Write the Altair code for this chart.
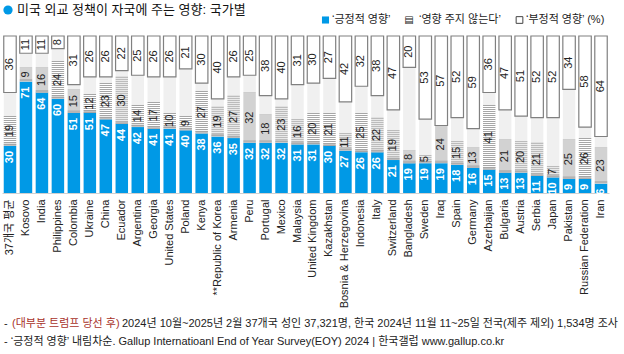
import altair as alt
import pandas as pd

countries = ["37개국 평균", "Kosovo", "India", "Philippines", "Colombia", "Ukraine", "China",
             "Ecuador", "Argentina", "Georgia", "United States", "Poland", "Kenya",
             "**Republic of Korea", "Armenia", "Peru", "Portugal", "Mexico", "Malaysia",
             "United Kingdom", "Kazakhstan", "Bosnia & Herzegovina", "Indonesia", "Italy",
             "Switzerland", "Bangladesh", "Sweden", "Iraq", "Spain", "Germany", "Azerbaijan",
             "Bulgaria", "Austria", "Serbia", "Japan", "Pakistan", "Russian Federation", "Iran"]
positive = [30, 71, 64, 60, 51, 51, 47, 44, 42, 41, 41, 40, 38, 36, 35, 32, 32, 32, 31, 31, 30,
            27, 26, 26, 21, 19, 19, 19, 18, 16, 15, 13, 13, 11, 10, 9, 9, 6]
neutral = [19, 9, 16, 24, 15, 12, 23, 30, 14, 17, 10, 9, 27, 19, 27, 32, 18, 23, 16, 20, 21,
           11, 25, 22, 19, 8, 5, 24, 15, 13, 41, 21, 20, 21, 7, 25, 26, 23]
negative = [36, 11, 11, 8, 31, 26, 26, 22, 25, 26, 26, 21, 30, 40, 26, 25, 38, 40, 31, 30, 27,
            42, 32, 38, 47, 20, 53, 57, 52, 59, 36, 47, 51, 52, 52, 34, 58, 64]

df = pd.DataFrame({"country": countries, "pos": positive, "neu": neutral, "neg": negative})
df["zero"] = 0
df["full"] = 100
df["neu_end"] = df["pos"] + df["neu"]
df["neu_mid"] = df["pos"] + df["neu"] / 2
df["neg_start"] = 100 - df["neg"]
df["neg_mid"] = 100 - df["neg"] / 2

FONT = "Liberation Sans, Noto Sans CJK KR, sans-serif"
BLUE = "#0099e6"
BAR_W = 12.4

x = alt.X("country:N", sort=countries,
          scale=alt.Scale(paddingInner=0.22, paddingOuter=0.11),
          axis=alt.Axis(title=None, labelAngle=270, labelFontSize=11, labelColor="#222222",
                        labelFont=FONT, ticks=False, domainColor="#d0d0d0", labelPadding=6,
                        labelLimit=200))
ys = alt.Scale(domain=[0, 100], nice=False, zero=True)

base = alt.Chart(df)

bg = base.mark_bar(color="#f0f0f0").encode(x=x, y=alt.Y("zero:Q", scale=ys, axis=None), y2="full")
blue = base.mark_bar(color=BLUE).encode(x=x, y=alt.Y("zero:Q", scale=ys, axis=None), y2="pos")
neu_bg = base.mark_bar(color="#ffffff").encode(x=x, y=alt.Y("pos:Q", scale=ys, axis=None), y2="neu_end")
stripes = base.mark_rule(color="#a6a6a6", strokeWidth=BAR_W, strokeDash=[1, 1]).encode(
    x=x, y=alt.Y("neu_end:Q", scale=ys, axis=None), y2="pos")
band = base.mark_tick(color="#a6a6a6", thickness=2.5, size=BAR_W, orient="horizontal",
                      yOffset=-1.25).encode(x=x, y=alt.Y("pos:Q", scale=ys, axis=None))
negbox = base.mark_bar(fill="#ffffff", stroke="#808080", strokeWidth=1.2).encode(
    x=x, y=alt.Y("neg_start:Q", scale=ys, axis=None), y2="full")

lab_pos = base.mark_text(angle=270, align="right", baseline="middle", dx=-5, font=FONT,
                         fontSize=11, fontWeight="bold", color="#ffffff").encode(
    x=x, y=alt.Y("pos:Q", scale=ys, axis=None), text="pos:Q")
lab_neu = base.mark_text(angle=270, align="center", baseline="middle", font=FONT,
                         fontSize=11, color="#222222").encode(
    x=x, y=alt.Y("neu_mid:Q", scale=ys, axis=None), text="neu:Q")
lab_neg = base.mark_text(angle=270, align="center", baseline="middle", font=FONT,
                         fontSize=11, color="#222222").encode(
    x=x, y=alt.Y("neg_mid:Q", scale=ys, axis=None), text="neg:Q")

one = pd.DataFrame({"a": [0]})


def txt(s, px, py, size=11, color="#222222", align="left", weight="normal", font=FONT):
    return alt.Chart(one).mark_text(text=s, align=align, baseline="middle", fontSize=size,
                                    color=color, fontWeight=weight, font=font).encode(
        x=alt.value(px), y=alt.value(py))


# title
dot = alt.Chart(one).mark_circle(size=85, color=BLUE, opacity=1).encode(x=alt.value(6), y=alt.value(-26))
title = txt("미국 외교 정책이 자국에 주는 영향: 국가별", 15, -26, size=13, color="#111111")

# legend
lg_blue = alt.Chart(one).mark_square(size=50, color=BLUE, opacity=1).encode(x=alt.value(323.5), y=alt.value(-16))
lg_t1 = txt("‘긍정적 영향’", 330, -16)
lg_hatch = txt("▤", 407, -16, size=10, font="DejaVu Sans", align="center")
lg_t2 = txt("‘영향 주지 않는다’", 417, -16)
lg_white = alt.Chart(one).mark_square(size=45, filled=False, color="#444444", strokeWidth=1,
                                      opacity=1).encode(x=alt.value(517.5), y=alt.value(-16))
lg_t3 = txt("‘부정적 영향’ (%)", 524, -16)

# footnotes
f1a = txt("-", 2, 288)
f1b = txt("(대부분 트럼프 당선 후)", 10, 288, color="#a8322a")
f1c = txt("2024년 10월~2025년 2월 37개국 성인 37,321명, 한국 2024년 11월 11~25일 전국(제주 제외) 1,534명 조사",
          120, 288)
f2 = txt("- ‘긍정적 영향’ 내림차순. Gallup Internatioanl End of Year Survey(EOY) 2024 | 한국갤럽 www.gallup.co.kr",
         2, 306)

chart = alt.layer(bg, blue, neu_bg, stripes, band, negbox, lab_pos, lab_neu, lab_neg,
                  dot, title, lg_blue, lg_t1, lg_hatch, lg_t2, lg_white, lg_t3,
                  f1a, f1b, f1c, f2).properties(
    width=607, height=157,
    autosize=alt.AutoSizeParams(type="none"),
    padding={"left": 2, "top": 36, "right": 15, "bottom": 161},
    background="#ffffff",
).configure_view(stroke=None)

chart.save("out.html", embed_options={"renderer": "svg", "actions": False})
